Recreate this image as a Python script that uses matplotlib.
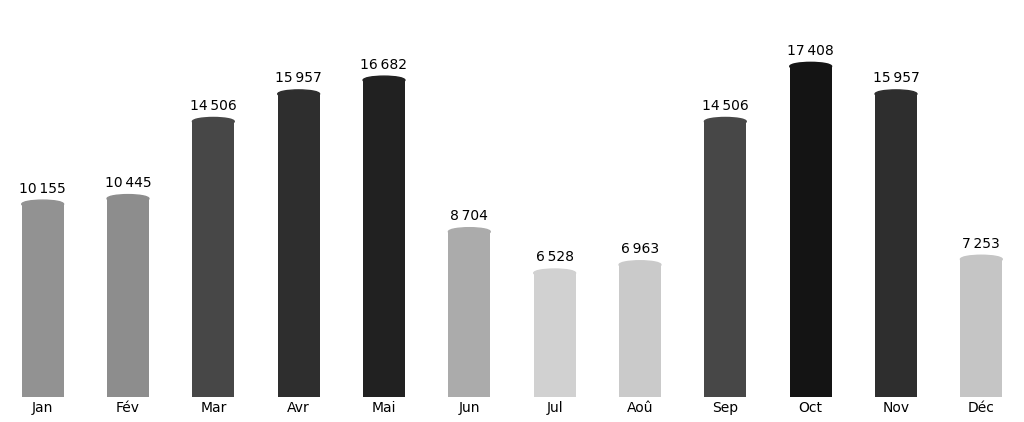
import numpy as np
import matplotlib.pyplot as plt
from matplotlib.patches import Ellipse

months = ['Jan', 'Fév', 'Mar', 'Avr', 'Mai', 'Jun', 'Jul', 'Aoû', 'Sep', 'Oct', 'Nov', 'Déc']
values = [10155, 10445, 14506, 15957, 16682, 8704, 6528, 6963, 14506, 17408, 15957, 7253]

fig = plt.figure(figsize=(10.24, 4.22), dpi=100)
ax = fig.add_axes([0, 25 / 422, 1, 1 - 25 / 422])

vmin, vmax = min(values), max(values)
w = 0.49
for i, v in enumerate(values):
    g = 0.82 - 0.74 * (v - vmin) / (vmax - vmin)
    c = (g, g, g)
    ax.bar(i, v, width=w, color=c)
    ax.add_patch(Ellipse((i, v), w, 420, color=c))
    ax.text(i, v + 450, f"{v:,}".replace(',', '\u202f'), ha='center', va='bottom', fontsize=10)

ax.set_xlim(-0.5, 11.5)
ax.set_ylim(0, 20900)
ax.set_xticks(range(len(months)))
ax.set_xticklabels(months, fontsize=10)
ax.tick_params(length=0, pad=3)
ax.set_yticks([])
for s in ax.spines.values():
    s.set_visible(False)

fig.savefig('out.png')
